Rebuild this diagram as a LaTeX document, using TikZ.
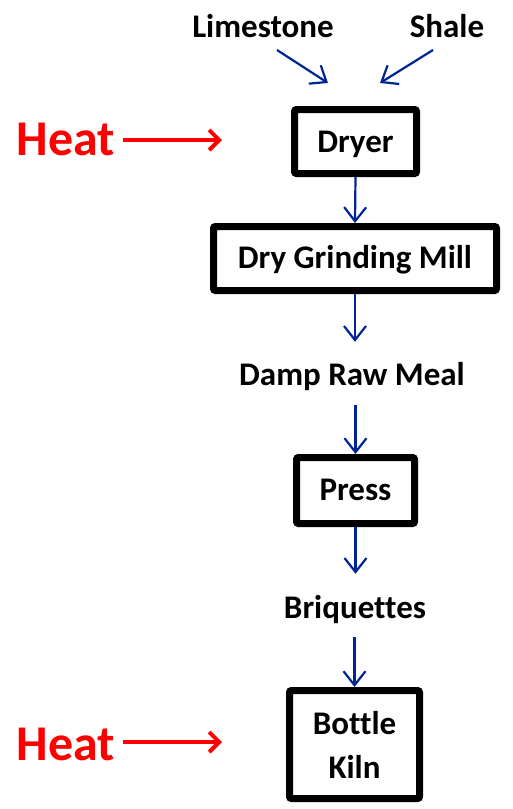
\documentclass[tikz,border=0pt]{standalone}
\usepackage{fontspec}
\setmainfont[Ligatures={NoCommon}]{Carlito}
\usetikzlibrary{arrows.meta}
\definecolor{flowblue}{RGB}{0,36,150}
\definecolor{heatred}{RGB}{255,0,0}
\tikzset{
  lbl/.style={font=\bfseries\fontsize{33}{44}\selectfont, anchor=base, inner sep=0pt, text height=24pt, text depth=7pt},
  heatlbl/.style={font=\bfseries\fontsize{50}{56}\selectfont, text=heatred, anchor=base, inner sep=0pt},
  procbox/.style={draw=black, line width=7pt, rounded corners=2pt, fill=white, align=center,
                  font=\bfseries\fontsize{33}{44}\selectfont, inner sep=0pt},
  barrow/.style={draw=flowblue, line width=2.2pt, -{Straight Barb[length=14pt, width=22pt, line width=2.2pt]}},
  rarrow/.style={draw=heatred, line width=4pt, -{Straight Barb[length=10pt, width=20pt, line width=4pt]}}
}
\begin{document}
\begin{tikzpicture}[x=1pt, y=-1pt]
\useasboundingbox (0,0) rectangle (512,809);
% labels
\node[lbl] (lime) at (263,37) {Limestone};
\node[lbl] (shale) at (447,37) {Shale};
\node[heatlbl] (heat1) at (66,155) {Heat};
\node[heatlbl] (heat2) at (66,760) {Heat};
% boxes
\node[procbox, minimum width=122pt, minimum height=64pt, text height=24pt, text depth=3pt] (dryer) at (355.5,141.5) {Dryer};
\node[procbox, minimum width=283pt, minimum height=64pt, text height=23pt, text depth=4pt] (mill) at (355,258.5) {Dry Grinding Mill};
\node[lbl] (damp) at (352,385) {Damp Raw Meal};
\node[procbox, minimum width=118pt, minimum height=66pt, text height=24pt, text depth=4pt] (press) at (355.5,490.5) {Press};
\node[lbl] (briq) at (355,618) {Briquettes};
\node[procbox, minimum width=130pt, minimum height=108pt] (kiln) at (354.5,744.5) {Bottle\\Kiln};
% free ends
\coordinate (ls) at (277,50);
\coordinate (le) at (328,83);
\coordinate (ss) at (433,50);
\coordinate (se) at (380,83);
\coordinate (h1s) at (123,140);
\coordinate (h1e) at (222,140);
\coordinate (h2s) at (123,742);
\coordinate (h2e) at (222,742);
% arrows
\draw[barrow] (ls) -- (le);
\draw[barrow] (ss) -- (se);
\draw[rarrow] (h1s) -- (h1e);
\draw[rarrow] (h2s) -- (h2e);
\draw[barrow] (dryer.south) -- (mill.north);
\draw[barrow, shorten >=19pt] (mill.south) -- (mill.south |- damp.north);
\draw[barrow, shorten <=13pt] (press.north |- damp.south) -- (press.north);
\draw[barrow, shorten >=20pt] (press.south) -- (press.south |- briq.north);
\draw[barrow, shorten <=12pt] (kiln.north |- briq.south) -- (kiln.north);
\end{tikzpicture}
\end{document}
